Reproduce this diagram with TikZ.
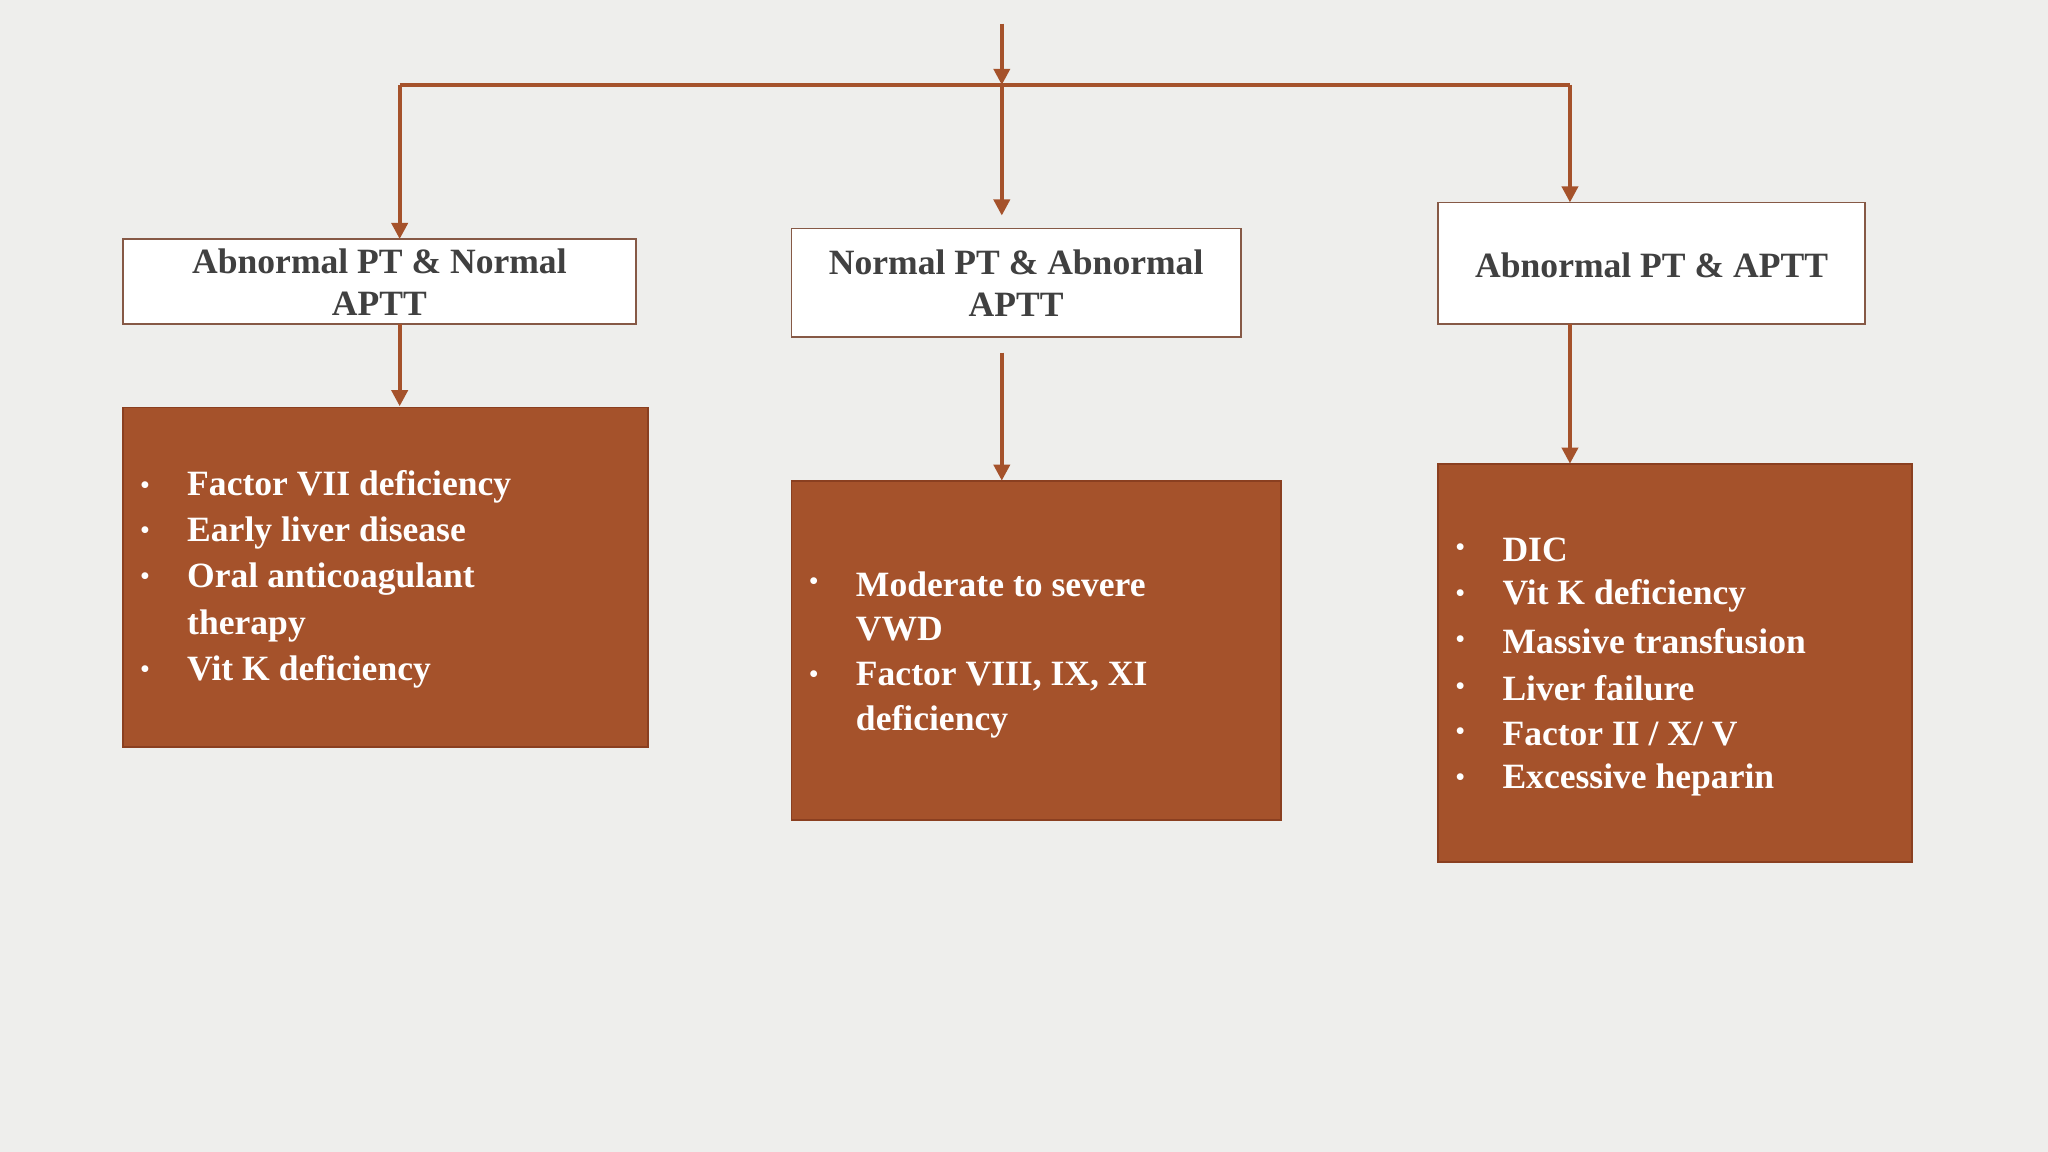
\documentclass[tikz,border=0pt]{standalone}
\usepackage{fontspec}
\setmainfont{Liberation Serif}
\usetikzlibrary{arrows.meta}
\definecolor{bg}{HTML}{EEEEEC}
\definecolor{rust}{HTML}{A5522B}
\definecolor{rustd}{HTML}{8A3F20}
\definecolor{ink}{HTML}{404040}
\tikzset{
 u/.style={x=0.02cm,y=-0.02cm},
 hdr/.style={draw=rustd!60!gray,fill=white,line width=0.8pt},
 res/.style={draw=rustd,fill=rust,line width=0.8pt},
 conn/.style={draw=rust,line width=1.6pt,-{Triangle[length=7pt,width=7pt]}},
 ht/.style={text=ink,font=\fontsize{15.5}{18.5}\selectfont\bfseries,align=center},
 it/.style={text=white,font=\fontsize{15.5}{18}\selectfont\bfseries,anchor=west,inner sep=0},
 bl/.style={text=white,font=\fontsize{11}{12}\selectfont\bfseries,anchor=center,inner sep=0}
}
\newcommand{\itm}[4]{\node[bl] at (#1,#3) {•};\node[it] at (#2,#3) {#4};}
\newcommand{\cnt}[3]{\node[it] at (#1,#2) {#3};}
\begin{document}
\begin{tikzpicture}[u]
\fill[bg] (0,0) rectangle (1568,882);
\useasboundingbox (0,0) rectangle (1568,882);
% header boxes
\draw[hdr] (94,183) rectangle (487,248);
\node[ht] (h1) at (290.5,216) {Abnormal PT \& Normal\\APTT};
\draw[hdr] (606,175) rectangle (950,258);
\node[ht] (h2) at (778,217) {Normal PT \& Abnormal\\APTT};
\draw[hdr] (1101,155) rectangle (1428,248);
\node[ht] (h3) at (1264.5,203) {Abnormal PT \& APTT};
% result boxes
\draw[res] (94,312) rectangle (496,572);
\draw[res] (606,368) rectangle (981,628);
\draw[res] (1101,355) rectangle (1464,660);
% connectors
\coordinate (top) at (767,18);
\coordinate (j) at (767,65);
\coordinate (l) at (306,65);
\coordinate (r) at (1202,65);
\coordinate (t1) at (306,183); \coordinate (t2) at (767,165); \coordinate (t3) at (1202,155);
\coordinate (b1) at (306,248); \coordinate (b2) at (767,270); \coordinate (b3) at (1202,248);
\coordinate (r1) at (306,311); \coordinate (r2) at (767,368); \coordinate (r3) at (1202,355);
\draw[rust,line width=1.6pt] (l) -- (r);
\draw[conn] (top) -- (j);
\draw[conn] (l) -- (t1);
\draw[conn] (j) -- (t2);
\draw[conn] (r) -- (t3);
\draw[conn] (b1) -- (r1);
\draw[conn] (b2) -- (r2);
\draw[conn] (b3) -- (r3);
% texts
\itm{111}{143}{373}{Factor VII deficiency}
\itm{111}{143}{408}{Early liver disease}
\itm{111}{143}{443}{Oral anticoagulant}
\cnt{143}{479}{therapy}
\itm{111}{143}{514}{Vit K deficiency}
\itm{623}{655}{447}{Moderate to severe}
\cnt{655}{482}{VWD}
\itm{623}{655}{518}{Factor VIII, IX, XI}
\cnt{655}{553}{deficiency}
\itm{1118}{1150}{421}{DIC}
\itm{1118}{1150}{456}{Vit K deficiency}
\itm{1118}{1150}{491}{Massive transfusion}
\itm{1118}{1150}{527}{Liver failure}
\itm{1118}{1150}{562}{Factor II / X/ V}
\itm{1118}{1150}{597}{Excessive heparin}
\end{tikzpicture}
\end{document}
